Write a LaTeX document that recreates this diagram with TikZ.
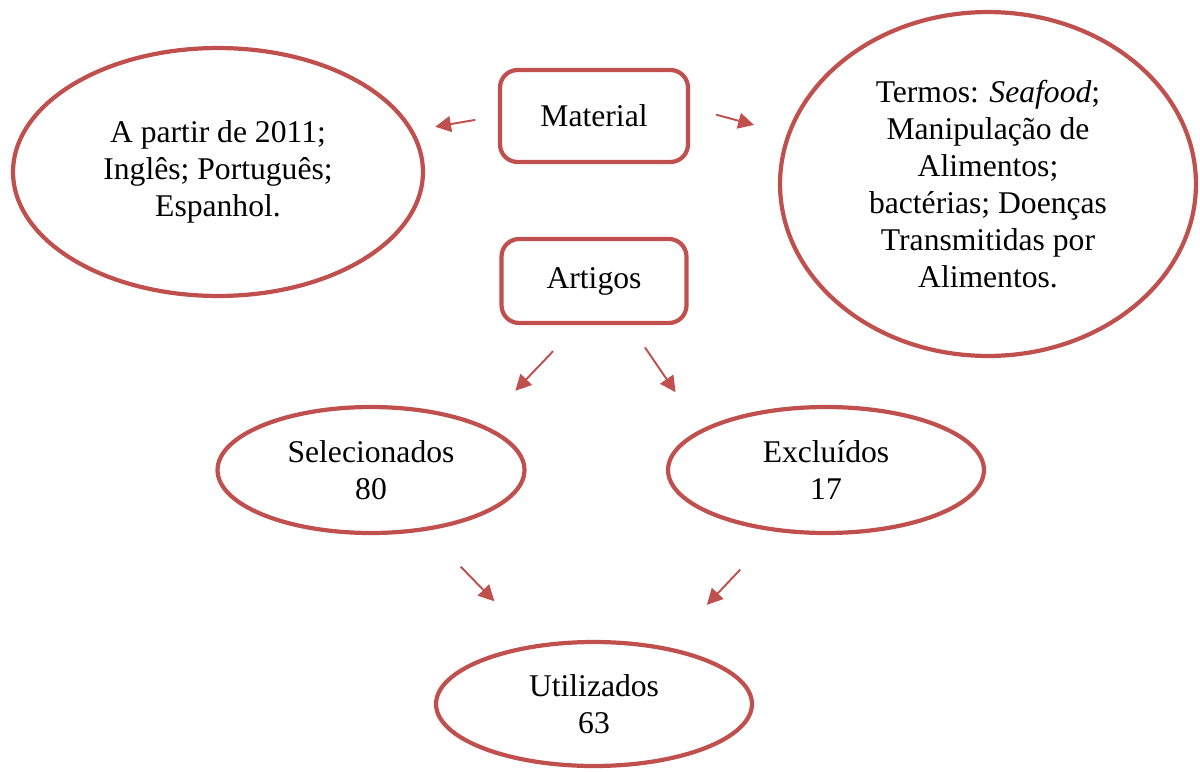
\documentclass[tikz,border=0pt]{standalone}
\usepackage{fontspec}
\setmainfont{Liberation Serif}
\usetikzlibrary{arrows.meta, shapes.geometric}
\definecolor{redline}{RGB}{192,80,77}

\begin{document}
\begin{tikzpicture}[x=0.02cm, y=-0.02cm,
  font=\fontsize{18}{21}\selectfont,
  caixa/.style={draw=redline, line width=2.4pt, rounded corners=10pt, inner sep=0pt},
  balao/.style={draw=redline, line width=2.4pt, ellipse, inner sep=0pt, align=center},
  seta/.style={draw=redline, line width=1.1pt, -{Triangle[length=9pt,width=9pt]}}]
%\draw[step=1cm,gray,very thin] (0,0) grid (1200,771); %background grid
\useasboundingbox (0,0) rectangle (1200,771);

% boxes
\node[caixa, minimum width=3.76cm, minimum height=1.84cm] (material) at (594,116) {Material};
\node[caixa, minimum width=3.7cm, minimum height=1.68cm] (artigos) at (594,281) {Artigos};

% ellipses
\node[balao, minimum width=8.2cm, minimum height=4.96cm] (periodo) at (218,172) {A partir de 2011;\\Inglês; Português;\\Espanhol.};
\node[balao, minimum width=8.32cm, minimum height=6.88cm] (termos) at (988,184) {Termos: \textit{Seafood};\\Manipulação de\\Alimentos;\\bactérias; Doenças\\Transmitidas por\\Alimentos.};
\node[balao, minimum width=6.14cm, minimum height=2.52cm] (selecionados) at (371,470) {Selecionados\\80};
\node[balao, minimum width=6.32cm, minimum height=2.52cm] (excluidos) at (826,470) {Excluídos\\17};
\node[balao, minimum width=6.32cm, minimum height=2.48cm] (utilizados) at (594,704) {Utilizados\\63};

% arrows
\draw[seta, shorten <=0.46cm, shorten >=0.44cm] (material.west) -- (periodo.12);
\draw[seta, shorten <=0.54cm, shorten >=0.68cm] (material.5) -- (termos.166);
\draw[seta, shorten <=0.72cm, shorten >=0.94cm] (artigos.250) -- (selecionados.22);
\draw[seta, shorten <=0.54cm, shorten >=0.9cm] (artigos.-51) -- (excluidos.162);
\draw[seta, shorten <=1.0cm, shorten >=1.2cm] (selecionados.-48) -- (utilizados.134);
\draw[seta, shorten <=1.04cm, shorten >=1.16cm] (excluidos.-129) -- (utilizados.38);

\end{tikzpicture}
\end{document}
